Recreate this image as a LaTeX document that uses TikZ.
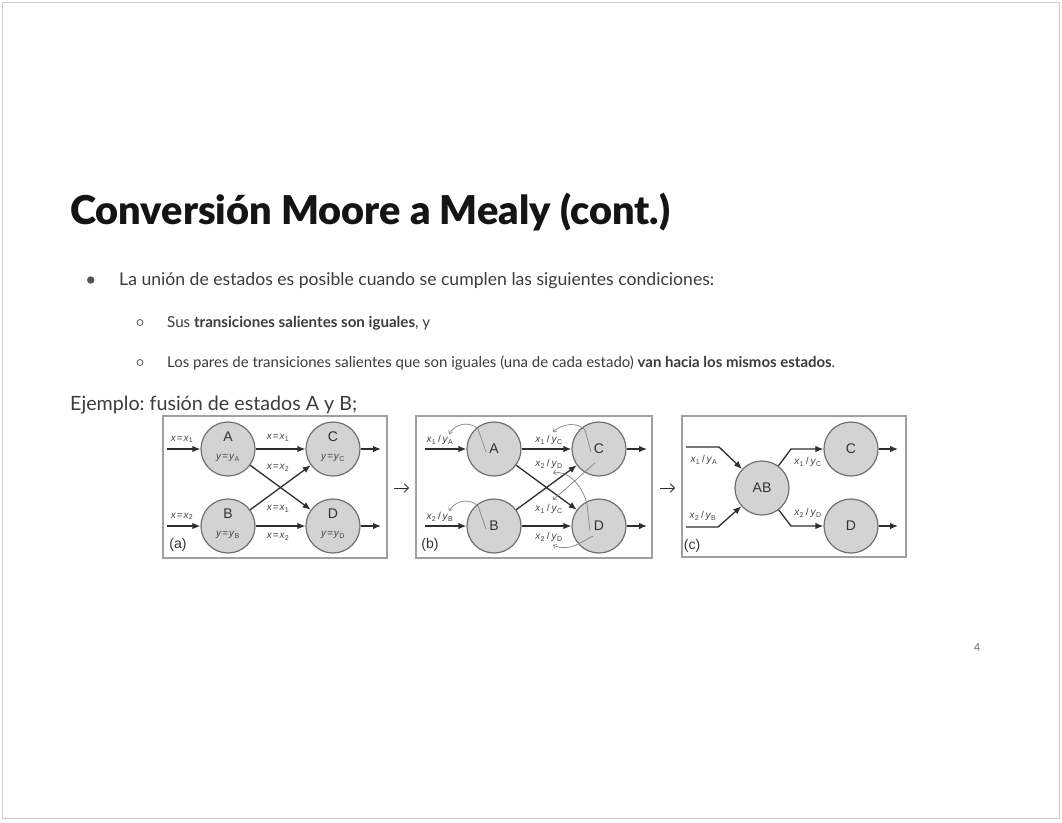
\documentclass[tikz,border=0pt]{standalone}
\usepackage{fontspec}
\setmainfont{Lato}
\newfontfamily\titlef{Lato Black}
\newfontfamily\arialf{Liberation Sans}
\usetikzlibrary{arrows.meta}
\definecolor{cfill}{HTML}{D3D3D3}
\definecolor{cborder}{HTML}{707070}
\definecolor{lcol}{HTML}{2E2E2E}
\definecolor{lbl}{HTML}{444444}
\definecolor{ctext}{HTML}{333333}
\definecolor{pbox}{HTML}{A0A0A0}
\definecolor{outerb}{HTML}{CCCCCC}
\definecolor{mvcol}{HTML}{858585}
\definecolor{txt}{HTML}{3C3C3C}
\definecolor{bul}{HTML}{555555}
\newcommand{\eqx}[1]{\textit{x}\hspace{0.8pt}=\hspace{0.8pt}\textit{x}\textsubscript{#1}}
\newcommand{\eqy}[1]{\textit{y}\hspace{0.8pt}=\hspace{0.8pt}\textit{y}\textsubscript{#1}}
\newcommand{\prl}[2]{\textit{x}\textsubscript{#1}\hspace{1.8pt}/\hspace{1.8pt}\textit{y}\textsubscript{#2}}
\frenchspacing
\begin{document}
\begin{tikzpicture}[x=1pt,y=-1pt,
  st/.style={circle, draw=cborder, fill=cfill, line width=1.2pt, minimum size=54pt, inner sep=0pt},
  stc/.style={st, font=\arialf\fontsize{14}{15}\selectfont, text=ctext},
  tr/.style={draw=lcol, line width=1.3pt, -{Latex[length=8pt,width=6.5pt]}},
  lb/.style={font=\arialf\fontsize{10}{11}\selectfont, text=lbl, inner sep=0pt},
  cl/.style={font=\arialf\fontsize{14}{15}\selectfont, text=ctext, inner sep=0pt},
  mv/.style={draw=mvcol, line width=0.7pt, -{Straight Barb[length=2.5pt,width=4.5pt]}},
  panel/.style={draw=pbox, line width=1.3pt},
  parr/.style={draw=lcol, line width=0.9pt, -{Straight Barb[length=4pt,width=8.5pt]}},
  tx/.style={anchor=base west, inner sep=0pt, text=txt}]
\useasboundingbox (0,0) rectangle (1062,822);
\fill[white] (0,0) rectangle (1062,822);
\draw[outerb, line width=1pt] (2.5,2.5) rectangle (1059,818.5);

% ---------- text ----------
\node[tx, text=black!92, font=\titlef\fontsize{39}{44}\selectfont] (title) at (70,224) {\resizebox{600pt}{!}{Conversión Moore a Mealy (cont.)}};
\node[circle, fill=bul, inner sep=0pt, minimum size=7.5pt] (b1) at (90.7,280) {};
\node[tx, font=\fontsize{16.2}{19}\selectfont] (l1) at (119,285) {\resizebox{595pt}{!}{La unión de estados es posible cuando se cumplen las siguientes condiciones:}};
\node[circle, draw=bul, line width=0.8pt, inner sep=0pt, minimum size=6pt] (b2) at (140,322.5) {};
\node[tx, font=\fontsize{13.5}{16}\selectfont] (l2) at (167,327) {\resizebox{263pt}{!}{Sus \textbf{transiciones salientes son iguales}, y}};
\node[circle, draw=bul, line width=0.8pt, inner sep=0pt, minimum size=6pt] (b3) at (140,362.5) {};
\node[tx, font=\fontsize{13.5}{16}\selectfont] (l3) at (167,367) {\resizebox{668pt}{!}{Los pares de transiciones salientes que son iguales (una de cada estado) \textbf{van hacia los mismos estados}.}};
\node[tx, font=\fontsize{16.2}{19}\selectfont] (l4) at (70,410) {\resizebox{287pt}{!}{Ejemplo: fusión de estados A y B;}};
\node[font=\fontsize{11}{12}\selectfont, text=black!55, inner sep=0pt] (pg) at (977,648) {4};

% ---------- panel (a) ----------
\draw[panel] (163,416) rectangle (387,558);
\node[st] (aA) at (228,449) {};
\node[st] (aB) at (228,526) {};
\node[st] (aC) at (333,449) {};
\node[st] (aD) at (333,526) {};
\coordinate (aiA) at (167,449); \coordinate (aiB) at (167,526);
\coordinate (aoC) at (381,449); \coordinate (aoD) at (381,526);
\draw[tr] (aiA) -- (aA);
\draw[tr] (aiB) -- (aB);
\draw[tr] (aA) -- (aC);
\draw[tr] (aA) -- (aD);
\draw[tr] (aB) -- (aC);
\draw[tr] (aB) -- (aD);
\draw[tr] (aC) -- (aoC);
\draw[tr] (aD) -- (aoD);
\node[lb] (aliA) at (182,439.5) {\eqx{1}};
\node[lb] (aliB) at (182,516.5) {\eqx{2}};
\node[lb] (alAC) at (278,438) {\eqx{1}};
\node[lb] (alAD) at (278,468) {\eqx{2}};
\node[lb] (alBC) at (278,509) {\eqx{1}};
\node[lb] (alBD) at (278,537) {\eqx{2}};
\node[cl] (aAt) at (228,437) {A}; \node[lb] (aAo) at (228,458) {\eqy{A}};
\node[cl] (aBt) at (228,514) {B}; \node[lb] (aBo) at (228,535) {\eqy{B}};
\node[cl] (aCt) at (333,437) {C}; \node[lb] (aCo) at (333,458) {\eqy{C}};
\node[cl] (aDt) at (333,514) {D}; \node[lb] (aDo) at (333,535) {\eqy{D}};
\node[cl] (atag) at (178,545) {(a)};

% ---------- arrows between panels ----------
\coordinate (p1s) at (394,488); \coordinate (p1e) at (409,488);
\draw[parr] (p1s) -- (p1e);
\coordinate (p2s) at (660,488); \coordinate (p2e) at (675,488);
\draw[parr] (p2s) -- (p2e);

% ---------- panel (b) ----------
\draw[panel] (416,416) rectangle (652,558);
\node[stc] (bA) at (494,449) {A};
\node[stc] (bB) at (494,526) {B};
\node[stc] (bC) at (599,449) {C};
\node[stc] (bD) at (599,526) {D};
\coordinate (biA) at (425,449); \coordinate (biB) at (425,526);
\coordinate (boC) at (647,449); \coordinate (boD) at (647,526);
\draw[tr] (biA) -- (bA);
\draw[tr] (biB) -- (bB);
\draw[tr] (bA) -- (bC);
\draw[tr] (bA) -- (bD);
\draw[tr] (bB) -- (bC);
\draw[tr] (bB) -- (bD);
\draw[tr] (bC) -- (boC);
\draw[tr] (bD) -- (boD);
\node[lb] (bliA) at (440,440) {\prl{1}{A}};
\node[lb] (bliB) at (440,517) {\prl{2}{B}};
\node[lb] (blAC) at (549,440) {\prl{1}{C}};
\node[lb] (blAD) at (549,464) {\prl{2}{D}};
\node[lb] (blBC) at (549,509) {\prl{1}{C}};
\node[lb] (blBD) at (549,537) {\prl{2}{D}};
\node[cl] (btag) at (430,545) {(b)};
% moved outputs
\draw[mv] (486,452) -- (478,429) .. controls (470,421) and (456,423) .. (449,434);
\draw[mv] (486,529) -- (478,506) .. controls (470,498) and (456,500) .. (449,511);
\draw[mv] (591,452) -- (585,430) .. controls (578,422) and (563,423) .. (553,432);
\draw[mv] (595,463) -- (553,500);
\draw[mv] (590,531) -- (587,504) .. controls (582,484) and (567,470) .. (553,473);
\draw[mv] (593,536) -- (580,543) .. controls (572,548) and (561,549) .. (553,545);

% ---------- panel (c) ----------
\draw[panel] (682,416) rectangle (906,557);
\node[stc] (cAB) at (762,488) {AB};
\node[stc] (cC) at (851,449) {C};
\node[stc] (cD) at (851,526) {D};
\coordinate (ci1) at (686,447); \coordinate (ci1b) at (719,447);
\coordinate (ci2) at (686,527); \coordinate (ci2b) at (718,527);
\coordinate (co1) at (791,449); \coordinate (co2) at (791,526);
\coordinate (coC) at (898,449); \coordinate (coD) at (898,526);
\draw[tr] (ci1) -- (ci1b) -- (cAB);
\draw[tr] (ci2) -- (ci2b) -- (cAB);
\draw[tr] (cAB) -- (co1) -- (cC);
\draw[tr] (cAB) -- (co2) -- (cD);
\draw[tr] (cC) -- (coC);
\draw[tr] (cD) -- (coD);
\node[lb] (cl1) at (704,460) {\prl{1}{A}};
\node[lb] (cl2) at (703,516) {\prl{2}{B}};
\node[lb] (cl3) at (808,462) {\prl{1}{C}};
\node[lb] (cl4) at (808,513) {\prl{2}{D}};
\node[cl] (ctag) at (692,546) {(c)};
\end{tikzpicture}
\end{document}
